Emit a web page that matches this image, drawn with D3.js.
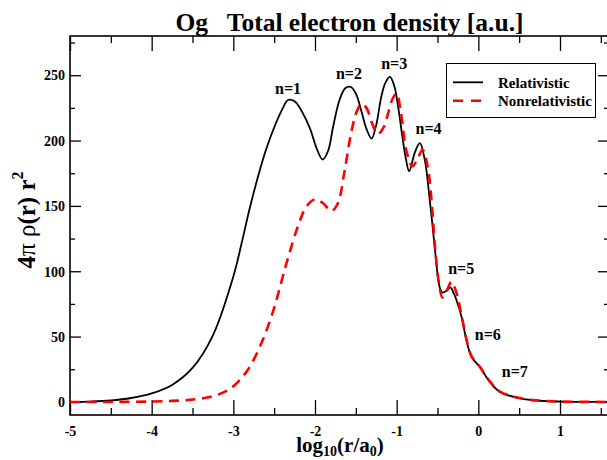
<!DOCTYPE html>
<html>
<head>
<meta charset="utf-8">
<script src="https://cdn.jsdelivr.net/npm/d3@7"></script>
<style>
  html, body { margin: 0; padding: 0; background: #fff; }
  svg { display: block; }
  text { font-family: "Liberation Serif", "Times New Roman", serif; font-weight: bold; fill: #000; }
</style>
</head>
<body>
<svg id="chart" width="607" height="460"></svg>
<script>
// ---- data ----
const relX = [-5.0, -4.75, -4.5, -4.25, -4.0, -3.75, -3.5, -3.25, -3.0, -2.9, -2.8, -2.7, -2.6, -2.5, -2.4, -2.33, -2.25, -2.15, -2.06, -1.98, -1.907, -1.84, -1.78, -1.70, -1.63, -1.565, -1.50, -1.43, -1.37, -1.307, -1.25, -1.19, -1.14, -1.083, -1.03, -0.98, -0.93, -0.887, -0.847, -0.777, -0.716, -0.655, -0.594, -0.53, -0.50, -0.47, -0.44, -0.39, -0.34, -0.30, -0.267, -0.205, -0.145, -0.083, 0.018, 0.14, 0.263, 0.467, 0.67, 1.0, 1.6];
const relY = [0, 0.3, 1.1, 3.0, 6.5, 13, 26, 51, 96, 121, 148, 172, 193, 210, 224, 231, 230, 221, 209, 194, 185.5, 192, 210, 231, 240, 241, 236, 222, 209, 201.5, 212, 233, 244, 248.7, 242, 225, 203, 186, 176.5, 191, 198, 185, 154, 116, 98, 87, 83.7, 85, 87.5, 83, 77.8, 65, 47, 34.4, 26.8, 15.3, 7.7, 3.3, 1.3, 0.3, 0];

const nrX = [-5.0, -4.5, -4.0, -3.75, -3.49, -3.245, -3.04, -2.84, -2.67, -2.51, -2.35, -2.2, -2.1, -2.0, -1.9, -1.80, -1.72, -1.64, -1.56, -1.49, -1.43, -1.37, -1.30, -1.23, -1.16, -1.104, -1.05, -1.0, -0.95, -0.88, -0.81, -0.745, -0.683, -0.62, -0.573, -0.53, -0.48, -0.44, -0.38, -0.33, -0.27, -0.205, -0.145, -0.083, 0.018, 0.14, 0.263, 0.467, 0.67, 1.0, 1.6];
const nrY = [0, 0, 0.3, 0.8, 1.8, 4.5, 10, 23, 43, 70, 106, 136, 150, 155, 152, 146, 152, 176, 205, 222, 228, 225, 213, 205, 210, 221, 232, 236, 222, 192, 180.3, 186, 193, 180, 154, 118, 90, 80, 86, 92, 84, 66, 48, 35, 27, 15.8, 8, 3.5, 1.4, 0.3, 0];

const xMajorTicks = [-5, -4, -3, -2, -1, 0, 1];
const xMinorTicks = [-4.5, -3.5, -2.5, -1.5, -0.5, 0.5, 1.5];
const yMajorTicks = [0, 50, 100, 150, 200, 250];
const yMinorTicks = [25, 75, 125, 175, 225, 275];

const shellLabels = ["n=1", "n=2", "n=3", "n=4", "n=5", "n=6", "n=7"];
const shellLabelX = [-2.33, -1.585, -1.03, -0.61, -0.21, 0.116, 0.447];
const shellLabelY = [236, 247, 254.5, 205, 97.7, 47.7, 18.7];

const seriesNames = ["Relativistic", "Nonrelativistic"];
const titleText = "Og   Total electron density [a.u.]";

// ---- layout ----
const svg = d3.select("#chart");
const mL = 70, mT = 36, mR = 609, mB = 415;

const x = d3.scaleLinear().domain([-5, 1.6]).range([mL, mR]);
const y = d3.scaleLinear().domain([-10, 280]).range([mB, mT]);

const g = svg.append("g");

svg.append("defs").append("clipPath").attr("id", "clip")
  .append("rect").attr("x", mL).attr("y", mT).attr("width", mR - mL).attr("height", mB - mT);

const fmt = d => String(d);

function styleAxis(sel) {
  sel.select(".domain").remove();
  sel.selectAll(".tick line").attr("stroke", "#000").attr("stroke-width", 1.3);
}

// bottom axis
const bx = g.append("g").attr("transform", `translate(0,${mB})`)
  .call(d3.axisBottom(x).tickValues(xMajorTicks).tickSize(-15).tickFormat(fmt).tickPadding(0));
styleAxis(bx);
bx.selectAll(".tick text").attr("y", 21).attr("dy", null)
  .style("font-size", "14px").style("font-family", "Liberation Serif").style("font-weight", "bold");
g.append("g").attr("transform", `translate(0,${mB})`)
  .call(d3.axisBottom(x).tickValues(xMinorTicks).tickSize(-7).tickFormat(""))
  .call(styleAxis);

// top axis
g.append("g").attr("transform", `translate(0,${mT})`)
  .call(d3.axisTop(x).tickValues(xMajorTicks).tickSize(-15).tickFormat(""))
  .call(styleAxis);
g.append("g").attr("transform", `translate(0,${mT})`)
  .call(d3.axisTop(x).tickValues(xMinorTicks).tickSize(-7).tickFormat(""))
  .call(styleAxis);

// left axis
const ly = g.append("g").attr("transform", `translate(${mL},0)`)
  .call(d3.axisLeft(y).tickValues(yMajorTicks).tickSize(-11).tickFormat(fmt).tickPadding(5));
styleAxis(ly);
ly.selectAll(".tick text").attr("x", -5).attr("dy", "0.34em")
  .style("font-size", "14px").style("font-family", "Liberation Serif").style("font-weight", "bold");
g.append("g").attr("transform", `translate(${mL},0)`)
  .call(d3.axisLeft(y).tickValues(yMinorTicks).tickSize(-5).tickFormat(""))
  .call(styleAxis);

// right axis
g.append("g").attr("transform", `translate(${mR},0)`)
  .call(d3.axisRight(y).tickValues(yMajorTicks).tickSize(-11).tickFormat(""))
  .call(styleAxis);
g.append("g").attr("transform", `translate(${mR},0)`)
  .call(d3.axisRight(y).tickValues(yMinorTicks).tickSize(-5).tickFormat(""))
  .call(styleAxis);

// frame
g.append("rect").attr("x", mL).attr("y", mT).attr("width", mR - mL).attr("height", mB - mT)
  .attr("fill", "none").attr("stroke", "#000").attr("stroke-width", 1.6);

// curves
const line = d3.line().x(d => x(d[0])).y(d => y(d[1])).curve(d3.curveCatmullRom.alpha(0.5));
const relData = relX.map((v, i) => [v, relY[i]]);
const nrData = nrX.map((v, i) => [v, nrY[i]]);

const curves = g.append("g").attr("clip-path", "url(#clip)");
curves.append("path").datum(relData).attr("d", line)
  .attr("fill", "none").attr("stroke", "#000").attr("stroke-width", 1.8);
curves.append("path").datum(nrData).attr("d", line)
  .attr("fill", "none").attr("stroke", "#ff0000").attr("stroke-width", 2.6)
  .attr("stroke-dasharray", "10,6.5");

// shell labels
g.selectAll(".shell").data(shellLabels).join("text")
  .attr("class", "shell")
  .attr("x", (d, i) => x(shellLabelX[i]))
  .attr("y", (d, i) => y(shellLabelY[i]))
  .attr("text-anchor", "middle")
  .style("font-size", "16px")
  .text(d => d);

// legend
const lg = g.append("g");
lg.append("rect").attr("x", 446.5).attr("y", 63.5).attr("width", 149).attr("height", 54)
  .attr("fill", "#fff").attr("stroke", "#000").attr("stroke-width", 1);
lg.append("line").attr("x1", 453).attr("x2", 483).attr("y1", 82.3).attr("y2", 82.3)
  .attr("stroke", "#000").attr("stroke-width", 1.8);
lg.append("line").attr("x1", 453).attr("x2", 483).attr("y1", 100.7).attr("y2", 100.7)
  .attr("stroke", "#ff0000").attr("stroke-width", 2.6).attr("stroke-dasharray", "10,8");
lg.selectAll(".lt").data(seriesNames).join("text")
  .attr("class", "lt")
  .attr("x", 498).attr("y", (d, i) => 87.5 + i * 18.4)
  .style("font-size", "15px")
  .text(d => d);

// title
svg.append("text").attr("x", 349.5).attr("y", 31).attr("text-anchor", "middle")
  .attr("xml:space", "preserve").style("white-space", "pre")
  .style("font-size", "25.5px").text(titleText);

// x-axis label: log10(r/a0)
const xl = svg.append("text").attr("x", 340).attr("y", 452).attr("text-anchor", "middle")
  .style("font-size", "21px");
xl.append("tspan").text("log");
xl.append("tspan").attr("dy", 4).style("font-size", "14px").text("10");
xl.append("tspan").attr("dy", -4).text("(r/a");
xl.append("tspan").attr("dy", 4).style("font-size", "14px").text("0");
xl.append("tspan").attr("dy", -4).text(")");

// y-axis label: 4π ρ(r) r²
const yl = svg.append("text").attr("transform", "translate(35,220) rotate(-90)")
  .attr("text-anchor", "middle").attr("xml:space", "preserve").style("white-space", "pre")
  .style("font-size", "25px");
yl.append("tspan").text("4");
yl.append("tspan").style("font-weight", "normal").text("π ρ");
yl.append("tspan").text("(r) r");
yl.append("tspan").attr("dy", -12).style("font-size", "16px").text("2");
</script>
</body>
</html>
